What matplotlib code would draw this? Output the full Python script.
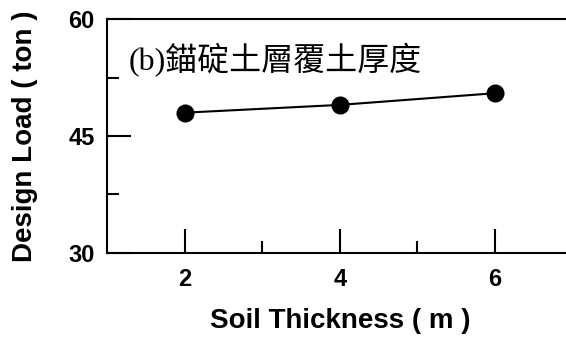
import matplotlib
matplotlib.use('Agg')
import matplotlib.pyplot as plt

# data
soil_thickness = [2, 4, 6]
design_load = [48.0, 49.0, 50.5]

x_major = [2, 4, 6]
x_minor = [3, 5]
y_major = [30, 45, 60]
y_minor = [37.5, 52.5]

note = '(b)錨碇土層覆土厚度'

plt.rcParams['font.family'] = ['Liberation Sans', 'DejaVu Sans']

fig = plt.figure(figsize=(5.66, 3.37), dpi=100)
ax = fig.add_axes([0.1896, 0.2501, 0.8216, 0.6926])

ax.plot(soil_thickness, design_load, color='black', lw=1.5,
        marker='o', markersize=12, clip_on=False)

ax.set_xlim(1, 7)
ax.set_ylim(30, 60)
ax.set_xticks(x_major)
ax.set_xticks(x_minor, minor=True)
ax.set_yticks(y_major)
ax.set_yticks(y_minor, minor=True)

ax.spines['right'].set_visible(False)
for s in ['top', 'left', 'bottom']:
	ax.spines[s].set_linewidth(1.5)

ax.tick_params(which='major', direction='in', length=17, width=1.5,
               labelsize=17)
ax.tick_params(which='minor', direction='in', length=8.6, width=1.5)
ax.tick_params(axis='x', which='major', pad=11)
ax.tick_params(axis='y', which='major', pad=9)
ax.tick_params(top=False, right=False, which='both')
for lab in ax.get_xticklabels() + ax.get_yticklabels():
	lab.set_fontweight('bold')

ax.set_xlabel('Soil Thickness ( m )', fontsize=20, fontweight='bold', labelpad=12)
ax.set_ylabel('Design Load ( ton )', fontsize=20, fontweight='bold', labelpad=22)

ax.text(1.27, 54.8, note, fontsize=23, ha='left', va='center',
        family=['Liberation Serif', 'Noto Sans CJK TC'])

fig.savefig('out.png', dpi=100)
